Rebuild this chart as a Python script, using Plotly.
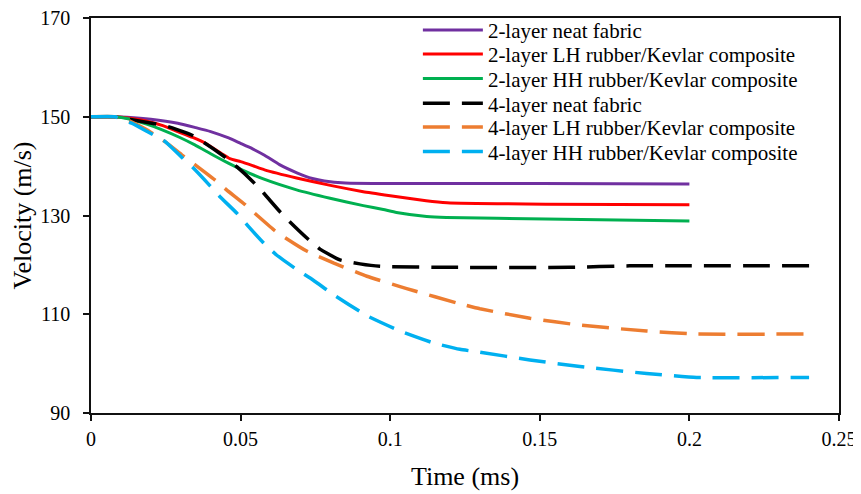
import plotly.graph_objects as go

# ---- data ----
names = [
    "2-layer neat fabric",
    "2-layer LH rubber/Kevlar composite",
    "2-layer HH rubber/Kevlar composite",
    "4-layer neat fabric",
    "4-layer LH rubber/Kevlar composite",
    "4-layer HH rubber/Kevlar composite",
]

t_2neat = [0, 0.008, 0.012, 0.02, 0.029, 0.035, 0.040, 0.046, 0.050, 0.054, 0.058, 0.063, 0.069, 0.074, 0.078, 0.085, 0.10, 0.15, 0.20]
v_2neat = [150, 150, 149.9, 149.5, 148.7, 147.8, 147.0, 145.7, 144.6, 143.5, 142.2, 140.3, 138.6, 137.5, 137.0, 136.6, 136.5, 136.5, 136.4]

t_2lh = [0, 0.008, 0.013, 0.018, 0.024, 0.029, 0.034, 0.038, 0.0437, 0.0464, 0.050, 0.054, 0.058, 0.0687, 0.080, 0.091, 0.100, 0.112, 0.119, 0.152, 0.20]
v_2lh = [150, 150, 149.7, 149.2, 148.2, 147.0, 145.8, 144.7, 142.5, 141.5, 140.9, 140.1, 139.25, 137.6, 136.1, 134.8, 134.0, 133.0, 132.6, 132.3, 132.2]

t_2hh = [0, 0.008, 0.0124, 0.0186, 0.0236, 0.0297, 0.0347, 0.0409, 0.0459, 0.0503, 0.0576, 0.0687, 0.0799, 0.091, 0.0977, 0.1021, 0.1122, 0.1188, 0.152, 0.20]
v_2hh = [150, 150, 149.6, 148.5, 147.4, 145.8, 144.3, 142.2, 140.6, 139.3, 137.4, 135.2, 133.5, 132.0, 131.2, 130.6, 129.8, 129.6, 129.3, 128.9]

t_4neat = [0, 0.008, 0.0136, 0.0203, 0.0258, 0.0336, 0.038, 0.0437, 0.0487, 0.0542, 0.0576, 0.0631, 0.0665, 0.0726, 0.0765, 0.0832, 0.0899, 0.0966, 0.12, 0.16, 0.18, 0.20, 0.24]
v_4neat = [150, 150, 149.4, 148.7, 148.0, 146.3, 144.7, 142.3, 139.9, 136.8, 134.6, 130.8, 128.7, 125.2, 123.2, 121.0, 120.2, 119.7, 119.5, 119.5, 119.8, 119.8, 119.8]

t_4lh = [0, 0.008, 0.0119, 0.0191, 0.0253, 0.0303, 0.0347, 0.0414, 0.0453, 0.0515, 0.0554, 0.0615, 0.0654, 0.0721, 0.081, 0.0922, 0.1033, 0.1077, 0.1222, 0.13, 0.1467, 0.1634, 0.1857, 0.2024, 0.24]
v_4lh = [150, 150, 149.4, 147.2, 144.7, 142.3, 140.3, 137.2, 135.2, 132.2, 130.1, 126.9, 125.3, 122.8, 120.4, 117.7, 115.6, 114.8, 112.3, 111.1, 109.2, 107.8, 106.6, 106.0, 106.0]

t_4hh = [0, 0.008, 0.0136, 0.0191, 0.0247, 0.0303, 0.0342, 0.0398, 0.0431, 0.0487, 0.0526, 0.0576, 0.062, 0.0682, 0.0743, 0.081, 0.0922, 0.1033, 0.1144, 0.1233, 0.13, 0.1467, 0.1634, 0.1857, 0.2024, 0.24]
v_4hh = [150, 150, 148.7, 146.9, 145.0, 141.8, 139.6, 136.0, 133.8, 130.5, 127.8, 124.5, 122.0, 119.3, 116.9, 114.0, 109.7, 106.6, 104.2, 102.9, 102.3, 100.75, 99.4, 98.0, 97.2, 97.2]

series_t = [t_2neat, t_2lh, t_2hh, t_4neat, t_4lh, t_4hh]
series_v = [v_2neat, v_2lh, v_2hh, v_4neat, v_4lh, v_4hh]
colors = ["#7030A0", "#FF0000", "#00B050", "#000000", "#ED7D31", "#00B0F0"]
dashes = ["solid", "solid", "solid", "27px,12px", "27px,12px", "27px,12px"]
widths = [3, 3, 3, 3.5, 3.5, 3.5]

x_ticks = [0, 0.05, 0.1, 0.15, 0.2, 0.25]
x_tick_text = ["0", "0.05", "0.1", "0.15", "0.2", "0.25"]
y_ticks = [90, 110, 130, 150, 170]

# legend row positions (paper y, one legend per entry)
legend_rows = [0.969, 0.908, 0.846, 0.783, 0.723, 0.661]

FONT = "Liberation Serif, Times New Roman, serif"

fig = go.Figure()
legend_ids = ["legend", "legend2", "legend3", "legend4", "legend5", "legend6"]
for n, t, v, c, d, w, lg in zip(names, series_t, series_v, colors, dashes, widths, legend_ids):
    fig.add_trace(go.Scatter(
        x=t, y=v, mode="lines", name=n, legend=lg,
        line=dict(color=c, width=w, dash=d, shape="spline", smoothing=0.4),
    ))

layout_legends = {}
for lg, yy in zip(legend_ids, legend_rows):
    layout_legends[lg] = dict(
        x=0.437, y=yy, xanchor="left", yanchor="middle",
        bgcolor="rgba(255,255,255,0)", borderwidth=0,
        font=dict(family=FONT, size=21, color="black"),
        itemwidth=60,
    )

# the page has an 8px body margin, so the figure is offset by 8px
fig.update_layout(
    width=853, height=486,
    margin=dict(l=83, r=22, t=10, b=81, autoexpand=False),
    paper_bgcolor="white", plot_bgcolor="white",
    font=dict(family=FONT, color="black", size=20),
    showlegend=True,
    **layout_legends,
)
fig.update_xaxes(
    range=[0, 0.25], tickvals=x_ticks, ticktext=x_tick_text,
    showgrid=False, zeroline=False, automargin=False,
    showline=True, linecolor="#111111", linewidth=1.5, mirror=True,
    ticks="outside", ticklen=6, tickwidth=1.5, tickcolor="#111111",
    tickfont=dict(family=FONT, size=20, color="black"),
    ticklabelstandoff=1, ticklabeloverflow="allow",
    title=dict(text="Time (ms)", font=dict(family=FONT, size=26, color="black"), standoff=18),
)
fig.update_yaxes(
    range=[90, 170], tickvals=y_ticks,
    showgrid=False, zeroline=False, automargin=False,
    showline=True, linecolor="#111111", linewidth=1.5, mirror=True,
    ticks="outside", ticklen=6, tickwidth=1.5, tickcolor="#111111",
    tickfont=dict(family=FONT, size=20, color="black"),
    ticklabelstandoff=9, ticklabeloverflow="allow",
    title=dict(text="Velocity (m/s)", font=dict(family=FONT, size=26, color="black"), standoff=5),
)

fig.write_html("out.html")
